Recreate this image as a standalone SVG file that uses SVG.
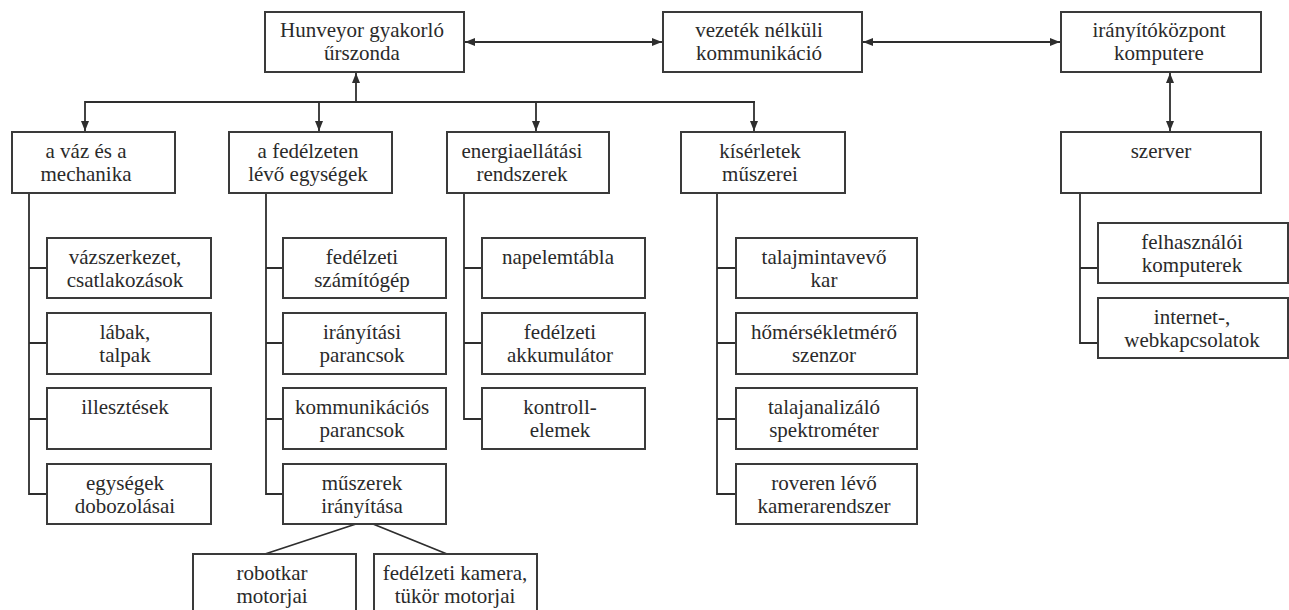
<svg xmlns="http://www.w3.org/2000/svg" width="1289" height="610" viewBox="0 0 1289 610">
<defs>
<style>
.b{fill:#fff;stroke:#3a3a3a;stroke-width:2}
.t{font-family:'Liberation Serif','Times New Roman','DejaVu Serif',serif;font-size:21px;fill:#2a2a2a;text-anchor:middle}
.c{fill:none;stroke:#2e2e2e;stroke-width:1.8}
.a{marker-end:url(#ah)}
.d{marker-start:url(#ah);marker-end:url(#ah)}
</style>
<marker id="ah" markerUnits="userSpaceOnUse" markerWidth="10" markerHeight="8" refX="10" refY="4" orient="auto-start-reverse">
<path d="M0,0 L10,4 L0,8 z" fill="#2e2e2e"/>
</marker>
</defs>
<rect width="1289" height="610" fill="#fff"/>
<g id="connectors">
<line class="c d" x1="465" y1="42" x2="662" y2="42"/>
<line class="c d" x1="863" y1="42" x2="1060" y2="42"/>
<line class="c d" x1="1170" y1="73" x2="1170" y2="131"/>
<line class="c" x1="85" y1="102" x2="755" y2="102"/>
<line class="c a" x1="356" y1="102" x2="356" y2="73"/>
<line class="c a" x1="85" y1="101" x2="85" y2="131"/>
<line class="c a" x1="319" y1="102" x2="319" y2="131"/>
<line class="c a" x1="536" y1="102" x2="536" y2="131"/>
<line class="c a" x1="754" y1="101" x2="754" y2="131"/>
<path class="c" d="M29,193 V494 H47 M29,268 H47 M29,343 H47 M29,419 H47"/>
<path class="c" d="M266,193 V494 H283 M266,268 H283 M266,343 H283 M266,419 H283"/>
<path class="c" d="M464,193 V419 H482 M464,268 H482 M464,343 H482"/>
<path class="c" d="M717,193 V494 H736 M717,268 H736 M717,343 H736 M717,419 H736"/>
<path class="c" d="M1080,193 V343 H1098 M1080,268 H1098"/>
<path class="c" d="M356,524 L265,554 M373,524 L447,554"/>
</g>
<g id="n-hunveyor"><rect class="b" x="265" y="12" width="199" height="60"/><text class="t" x="362" y="37">Hunveyor gyakorló</text><text class="t" x="362" y="60">űrszonda</text></g>
<g id="n-vezetek"><rect class="b" x="663" y="12" width="199" height="60"/><text class="t" x="759" y="37">vezeték nélküli</text><text class="t" x="759" y="60">kommunikáció</text></g>
<g id="n-iranyito"><rect class="b" x="1061" y="12" width="200" height="60"/><text class="t" x="1159" y="37">irányítóközpont</text><text class="t" x="1159" y="60">komputere</text></g>
<g id="n-szerver"><rect class="b" x="1061" y="132" width="200" height="61"/><text class="t" x="1161" y="158">szerver</text></g>
<g id="n-vaz"><rect class="b" x="12" y="132" width="163" height="61"/><text class="t" x="86" y="158">a váz és a</text><text class="t" x="86" y="181">mechanika</text></g>
<g id="n-fedelzeten"><rect class="b" x="229" y="132" width="163" height="61"/><text class="t" x="308" y="158">a fedélzeten</text><text class="t" x="308" y="181">lévő egységek</text></g>
<g id="n-energia"><rect class="b" x="447" y="132" width="162" height="61"/><text class="t" x="522" y="158">energiaellátási</text><text class="t" x="522" y="181">rendszerek</text></g>
<g id="n-kiserletek"><rect class="b" x="681" y="132" width="164" height="61"/><text class="t" x="760" y="158">kísérletek</text><text class="t" x="760" y="181">műszerei</text></g>
<g id="n-vazszerkezet"><rect class="b" x="47" y="238" width="164" height="60"/><text class="t" x="125" y="264">vázszerkezet,</text><text class="t" x="125" y="287">csatlakozások</text></g>
<g id="n-labak"><rect class="b" x="47" y="313" width="164" height="61"/><text class="t" x="125" y="339">lábak,</text><text class="t" x="125" y="362">talpak</text></g>
<g id="n-illesztesek"><rect class="b" x="47" y="388" width="164" height="61"/><text class="t" x="125" y="414">illesztések</text></g>
<g id="n-egysegek"><rect class="b" x="47" y="464" width="164" height="60"/><text class="t" x="125" y="490">egységek</text><text class="t" x="125" y="513">dobozolásai</text></g>
<g id="n-szamitogep"><rect class="b" x="283" y="238" width="163" height="60"/><text class="t" x="362" y="264">fedélzeti</text><text class="t" x="362" y="287">számítógép</text></g>
<g id="n-iranyitasi"><rect class="b" x="283" y="313" width="163" height="61"/><text class="t" x="362" y="339">irányítási</text><text class="t" x="362" y="362">parancsok</text></g>
<g id="n-kommunikacios"><rect class="b" x="283" y="388" width="163" height="61"/><text class="t" x="362" y="414">kommunikációs</text><text class="t" x="362" y="437">parancsok</text></g>
<g id="n-muszerek"><rect class="b" x="283" y="464" width="163" height="60"/><text class="t" x="362" y="490">műszerek</text><text class="t" x="362" y="513">irányítása</text></g>
<g id="n-robotkar"><rect class="b" x="193" y="554" width="163" height="62"/><text class="t" x="272" y="580">robotkar</text><text class="t" x="272" y="603">motorjai</text></g>
<g id="n-kamera"><rect class="b" x="374" y="554" width="163" height="62"/><text class="t" x="455" y="580">fedélzeti kamera,</text><text class="t" x="455" y="603">tükör motorjai</text></g>
<g id="n-napelem"><rect class="b" x="482" y="238" width="163" height="60"/><text class="t" x="558" y="264">napelemtábla</text></g>
<g id="n-akkumulator"><rect class="b" x="482" y="313" width="163" height="61"/><text class="t" x="560" y="339">fedélzeti</text><text class="t" x="560" y="362">akkumulátor</text></g>
<g id="n-kontroll"><rect class="b" x="482" y="388" width="163" height="61"/><text class="t" x="560" y="414">kontroll-</text><text class="t" x="560" y="437">elemek</text></g>
<g id="n-talajminta"><rect class="b" x="736" y="238" width="181" height="60"/><text class="t" x="824" y="264">talajmintavevő</text><text class="t" x="824" y="287">kar</text></g>
<g id="n-homerseklet"><rect class="b" x="736" y="313" width="181" height="61"/><text class="t" x="824" y="339">hőmérsékletmérő</text><text class="t" x="824" y="362">szenzor</text></g>
<g id="n-talajanalizalo"><rect class="b" x="736" y="388" width="181" height="61"/><text class="t" x="824" y="414">talajanalizáló</text><text class="t" x="824" y="437">spektrométer</text></g>
<g id="n-roveren"><rect class="b" x="736" y="464" width="181" height="60"/><text class="t" x="824" y="490">roveren lévő</text><text class="t" x="824" y="513">kamerarendszer</text></g>
<g id="n-felhasznaloi"><rect class="b" x="1098" y="223" width="190" height="60"/><text class="t" x="1192" y="249">felhasználói</text><text class="t" x="1192" y="272">komputerek</text></g>
<g id="n-internet"><rect class="b" x="1098" y="298" width="190" height="60"/><text class="t" x="1192" y="324">internet-,</text><text class="t" x="1192" y="347">webkapcsolatok</text></g>
</svg>
